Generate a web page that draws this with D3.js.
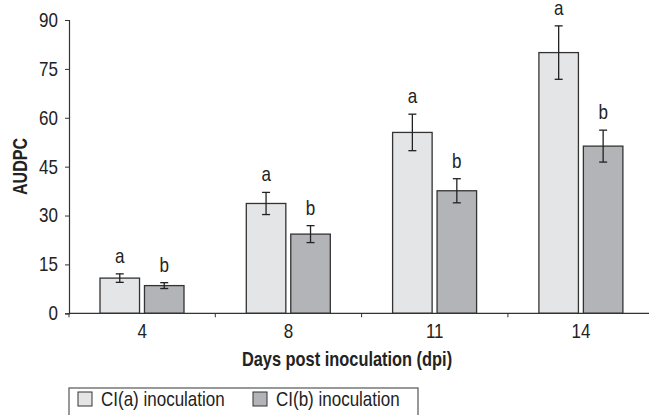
<!DOCTYPE html>
<html>
<head>
<meta charset="utf-8">
<script src="https://cdn.jsdelivr.net/npm/d3@7"></script>
<style>
  body { margin: 0; background: #fff; }
  svg text { font-family: "Liberation Sans", Arial, sans-serif; fill: #222; }
  /* the figure uses a condensed face; squeeze Liberation Sans */
  .cond { transform-box: fill-box; transform-origin: center; transform: scaleX(0.85); }
  .cond-l { transform-box: fill-box; transform-origin: left center; transform: scaleX(0.85); }
  .cond-r { transform-box: fill-box; transform-origin: right center; transform: scaleX(0.85); }
  .cond-b { transform-box: fill-box; transform-origin: center; transform: scaleX(0.82); }
</style>
</head>
<body>
<script>
// values
var days = ["4", "8", "11", "14"];
var series = ["CI(a) inoculation", "CI(b) inoculation"];
var ciA = [10.8, 33.7, 55.5, 80.0];
var ciAErr = [1.3, 3.4, 5.6, 8.2];
var ciB = [8.5, 24.3, 37.6, 51.3];
var ciBErr = [0.9, 2.6, 3.7, 4.9];
var letterA = ["a", "a", "a", "a"];
var letterB = ["b", "b", "b", "b"];
var yTicks = [0, 15, 30, 45, 60, 75, 90];
var fills = ["#e4e5e7", "#b3b4b8"];

var W = 649, H = 415;
var mLeft = 69, mTop = 20, mBottom = 313.3;

var svg = d3.select("body").append("svg")
  .attr("width", W)
  .attr("height", H);

var x0 = d3.scaleBand().domain(days).range([mLeft, mLeft + 4 * 146.3]).padding(0);
var x1 = d3.scaleBand().domain(series).range([31, 115]).paddingInner(1 / 9);
var y = d3.scaleLinear().domain([0, 90]).range([mBottom, mTop]);

var rows = days.map(function (d, i) {
  return [
    { day: d, s: series[0], v: ciA[i], e: ciAErr[i], l: letterA[i], c: fills[0] },
    { day: d, s: series[1], v: ciB[i], e: ciBErr[i], l: letterB[i], c: fills[1] }
  ];
});

// y axis
var yAxis = svg.append("g")
  .attr("transform", "translate(" + mLeft + ",0)")
  .call(d3.axisLeft(y).tickValues(yTicks).tickSize(4).tickPadding(7));
yAxis.attr("font-family", null);
yAxis.selectAll("text")
  .attr("font-size", 20)
  .attr("class", "cond-r");
yAxis.select(".domain").attr("stroke", "#333").attr("stroke-width", 1.2);
yAxis.selectAll(".tick line").attr("stroke", "#333");

svg.append("text")
  .attr("transform", "translate(27,166.5) rotate(-90) scale(0.8,1)")
  .attr("text-anchor", "middle")
  .attr("font-size", 20)
  .attr("font-weight", "bold")
  .text("AUDPC");

// groups
var g = svg.selectAll(".grp")
  .data(rows)
  .enter()
  .append("g")
  .attr("class", "grp")
  .attr("transform", function (d, i) { return "translate(" + x0(days[i]) + ",0)"; });

var item = g.selectAll(".item")
  .data(function (d) { return d; })
  .enter()
  .append("g")
  .attr("class", "item");

item.append("rect")
  .attr("x", function (d) { return x1(d.s); })
  .attr("y", function (d) { return y(d.v); })
  .attr("width", x1.bandwidth())
  .attr("height", function (d) { return y(0) - y(d.v); })
  .attr("fill", function (d) { return d.c; })
  .attr("stroke", "#333")
  .attr("stroke-width", 1.3);

var cx = function (d) { return x1(d.s) + x1.bandwidth() / 2; };

item.append("line")
  .attr("x1", cx).attr("x2", cx)
  .attr("y1", function (d) { return y(d.v + d.e); })
  .attr("y2", function (d) { return y(d.v - d.e); })
  .attr("stroke", "#222").attr("stroke-width", 1.3);
[1, -1].forEach(function (sgn) {
  item.append("line")
    .attr("x1", function (d) { return cx(d) - 4; })
    .attr("x2", function (d) { return cx(d) + 4; })
    .attr("y1", function (d) { return y(d.v + sgn * d.e); })
    .attr("y2", function (d) { return y(d.v + sgn * d.e); })
    .attr("stroke", "#222").attr("stroke-width", 1.3);
});

item.append("text")
  .attr("class", "cond")
  .attr("x", cx)
  .attr("y", function (d) { return y(d.v + d.e) - 11; })
  .attr("text-anchor", "middle")
  .attr("font-size", 20)
  .text(function (d) { return d.l; });

// x axis
var xAxis = svg.append("g")
  .attr("transform", "translate(0," + mBottom + ")");
xAxis.append("line")
  .attr("x1", mLeft).attr("x2", W)
  .attr("stroke", "#333").attr("stroke-width", 1.2);
xAxis.selectAll(".xt")
  .data(days)
  .enter()
  .append("line")
  .attr("class", "xt")
  .attr("x1", function (d) { return x0(d); })
  .attr("x2", function (d) { return x0(d); })
  .attr("y1", 0).attr("y2", 4)
  .attr("stroke", "#333");
xAxis.selectAll(".xl")
  .data(days)
  .enter()
  .append("text")
  .attr("class", "cond")
  .attr("x", function (d) { return x0(d) + x0.bandwidth() / 2; })
  .attr("y", 25)
  .attr("text-anchor", "middle")
  .attr("font-size", 20)
  .text(function (d) { return d; });

svg.append("text")
  .attr("class", "cond-b")
  .attr("x", 347)
  .attr("y", 366)
  .attr("text-anchor", "middle")
  .attr("font-size", 20)
  .attr("font-weight", "bold")
  .text("Days post inoculation (dpi)");

// legend
var leg = svg.append("g").attr("transform", "translate(69,388)");
leg.append("rect")
  .attr("x", 0).attr("y", 0)
  .attr("width", 349).attr("height", 40)
  .attr("fill", "none")
  .attr("stroke", "#555").attr("stroke-width", 1.2);
var li = leg.selectAll(".li")
  .data(series)
  .enter()
  .append("g")
  .attr("class", "li")
  .attr("transform", function (d, i) { return "translate(" + (9 + i * 175) + ",0)"; });
li.append("rect")
  .attr("x", 0).attr("y", 4)
  .attr("width", 14).attr("height", 14)
  .attr("fill", function (d, i) { return fills[i]; })
  .attr("stroke", "#333");
li.append("text")
  .attr("class", "cond-l")
  .attr("x", 23)
  .attr("y", 18)
  .attr("font-size", 20)
  .text(function (d) { return d; });
</script>
</body>
</html>
